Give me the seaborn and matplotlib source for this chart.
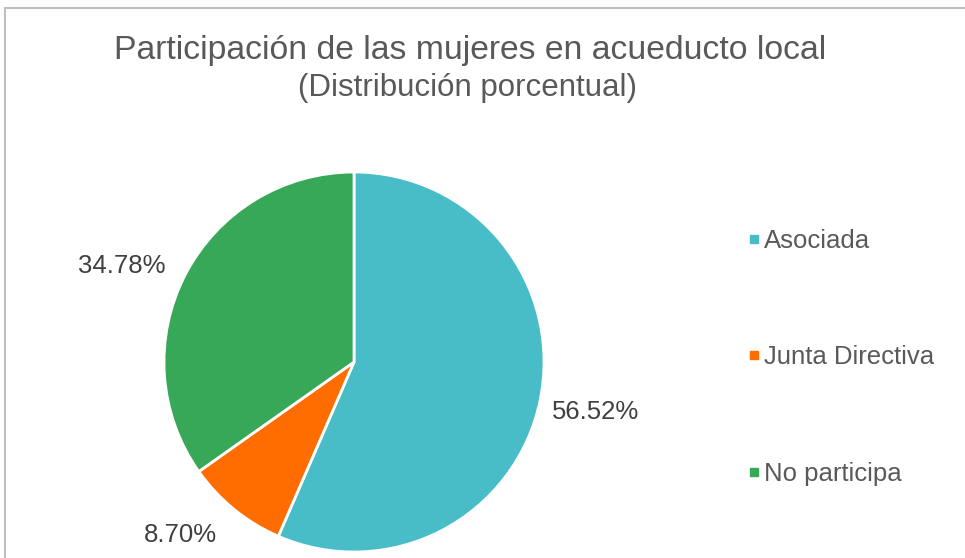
import matplotlib
matplotlib.use("Agg")
import numpy as np
import matplotlib.pyplot as plt
from matplotlib.lines import Line2D
import seaborn as sns

# Data
categories = ["Asociada", "Junta Directiva", "No participa"]
shares = [56.52, 8.70, 34.78]
colors = ["#48BCC7", "#FF6D00", "#36A857"]

# Where each percentage label sits: fraction along the wedge arc, and radius
label_frac = [0.5, 0.69, 0.46]
label_dist = [1.3, 1.29, 1.32]

sns.set_theme(style="white")
plt.rcParams['font.family'] = ['Liberation Sans', 'DejaVu Sans']

W, H = 965, 558
fig = plt.figure(figsize=(W / 100, H / 100), dpi=100)

# Pie axes: centre (354, 362) from top, radius ~190 px
ax = fig.add_axes([154 / W, -4 / H, 400 / W, 400 / H])
wedges, _ = ax.pie(
    shares,
    colors=colors,
    startangle=90,
    counterclock=False,
    wedgeprops=dict(edgecolor='white', linewidth=2),
)
for w, v, f, d in zip(wedges, shares, label_frac, label_dist):
    # counterclock=False -> the wedge is drawn from theta2 down to theta1
    ang = np.deg2rad(w.theta2 - f * (w.theta2 - w.theta1))
    ax.text(d * np.cos(ang), d * np.sin(ang), f"{v:.2f}%",
            ha='center', va='center', fontsize=18.5, color='#404040')
lim = 400 / 380
ax.set_xlim(-lim, lim)
ax.set_ylim(-lim, lim)
ax.set_aspect('equal')
ax.axis('off')

# Title
fig.text(470 / W, 1 - 50 / H, "Participación de las mujeres en acueducto local",
         ha='center', va='center', fontsize=24.3, color='#595959')
fig.text(468 / W, 1 - 88 / H, "(Distribución porcentual)",
         ha='center', va='center', fontsize=22.5, color='#595959')

# Legend
handles = [Line2D([0], [0], marker='s', linestyle='none', markersize=5.5,
                  markerfacecolor=c, markeredgecolor=c) for c in colors]
fig.legend(handles, categories, loc='center left',
           bbox_to_anchor=(735 / W, 1 - 357 / H), frameon=False,
           fontsize=18.5, labelcolor='#595959', handlelength=0.5,
           handletextpad=0.12, labelspacing=3.6, borderpad=0)

# Chart-area border (only top and left edges are visible in the crop)
fig.add_artist(Line2D([5 / W, 1], [1 - 8 / H, 1 - 8 / H], color='#BFBFBF', linewidth=1.5))
fig.add_artist(Line2D([5 / W, 5 / W], [0, 1 - 8 / H], color='#BFBFBF', linewidth=1.5))

fig.savefig("out.png", dpi=100)
plt.close(fig)
